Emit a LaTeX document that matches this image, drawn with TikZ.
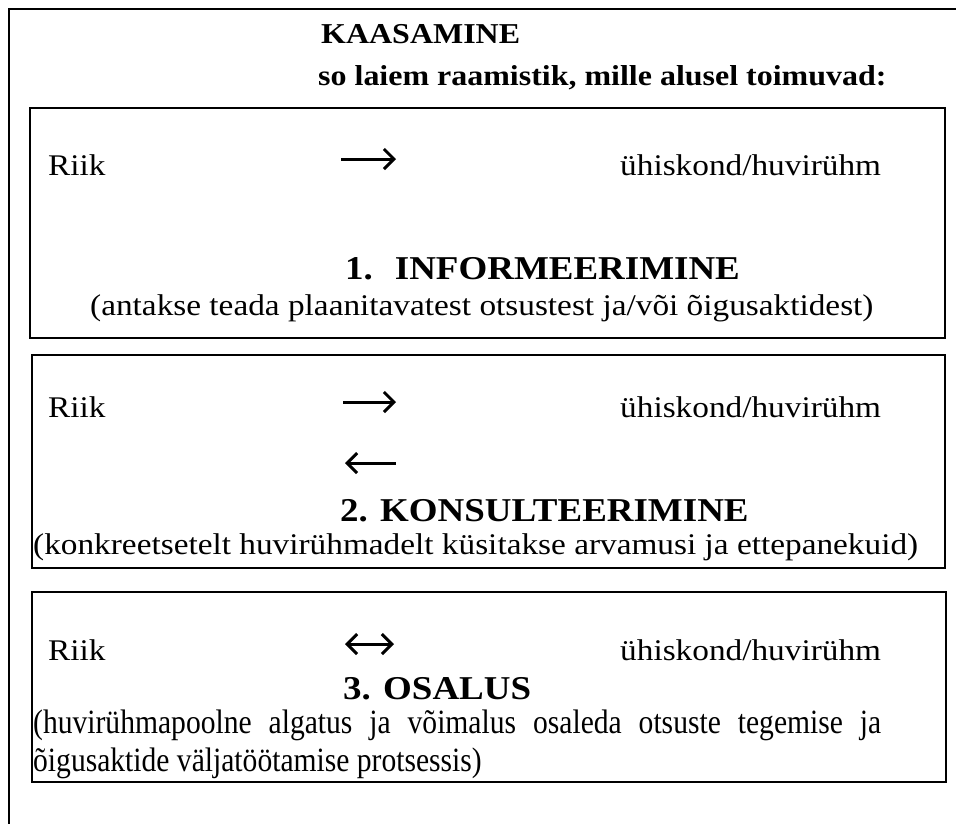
\documentclass[tikz,border=0pt]{standalone}
\usepackage{fontspec}
\setmainfont{Liberation Serif}[FakeStretch=1.11]
\newfontfamily\condfont{Liberation Serif}[FakeStretch=0.87]
\usetikzlibrary{arrows.meta}
\tikzset{
  txt/.style={anchor=base west, inner sep=0pt, font=\fontsize{30}{36}\selectfont},
  ttxt/.style={anchor=base west, inner sep=0pt, font=\fontsize{28.8}{35}\selectfont\bfseries},
  htxt/.style={anchor=base west, inner sep=0pt, font=\fontsize{33.3}{40}\selectfont\bfseries},
  ptxt/.style={anchor=base west, inner sep=0pt, font=\condfont\fontsize{34}{40}\selectfont},
  boxline/.style={draw=black, line width=2pt},
  arw/.style={line width=3pt, line cap=butt},
  barb/.tip={Straight Barb[length=10pt,width=20pt,line width=3pt]},
  tipR/.style={-barb},
  tipL/.style={barb-},
  tipLR/.style={barb-barb}
}
\begin{document}
\begin{tikzpicture}[x=1pt,y=-1pt]
\useasboundingbox (0,0) rectangle (956,823);
\fill[white] (0,0) rectangle (956,823);
% outer frame (open to right and bottom)
\draw[line width=2.6pt] (958,9) -- (9,9) -- (9,825);
% header
\node[ttxt] (title) at (321,43) {KAASAMINE};
\node[ttxt] (sub) at (318,85) {so laiem raamistik, mille alusel toimuvad:};
% box 1
\draw[boxline] (30,108) rectangle (945,338);
\node[txt] (riik1) at (48,175) {Riik};
\node[txt] (yh1) at (620,175) {ühiskond/huvirühm};
\coordinate (a1s) at (341,159);
\coordinate (a1e) at (396,159);
\draw[arw,tipR] (a1s) -- (a1e);
\node[htxt] (h1) at (345,279) {1.\hspace{22pt}INFORMEERIMINE};
\node[txt] (d1) at (90,315) {(antakse teada plaanitavatest otsustest ja/või õigusaktidest)};
% box 2
\draw[boxline] (32,355) rectangle (945,568);
\node[txt] (riik2) at (48,417) {Riik};
\node[txt] (yh2) at (620,417) {ühiskond/huvirühm};
\coordinate (a2s) at (343,402);
\coordinate (a2e) at (396,402);
\draw[arw,tipR] (a2s) -- (a2e);
\coordinate (b2s) at (345,463);
\coordinate (b2e) at (396,463);
\draw[arw,tipL] (b2s) -- (b2e);
\node[htxt] (h2) at (340,521) {2. KONSULTEERIMINE};
\node[txt] (d2) at (33,554) {(konkreetsetelt huvirühmadelt küsitakse arvamusi ja ettepanekuid)};
% box 3
\draw[boxline] (32,592) rectangle (946,782);
\node[txt] (riik3) at (48,660) {Riik};
\node[txt] (yh3) at (620,660) {ühiskond/huvirühm};
\coordinate (c3s) at (345,644);
\coordinate (c3e) at (394,644);
\draw[arw,tipLR] (c3s) -- (c3e);
\node[htxt] (h3) at (343,699) {3. OSALUS};
\node[ptxt] (d3a) at (33,733) {\makebox[848pt][s]{(huvirühmapoolne algatus ja võimalus osaleda otsuste tegemise ja}};
\node[ptxt] (d3b) at (33,771) {õigusaktide väljatöötamise protsessis)};
\end{tikzpicture}
\end{document}
